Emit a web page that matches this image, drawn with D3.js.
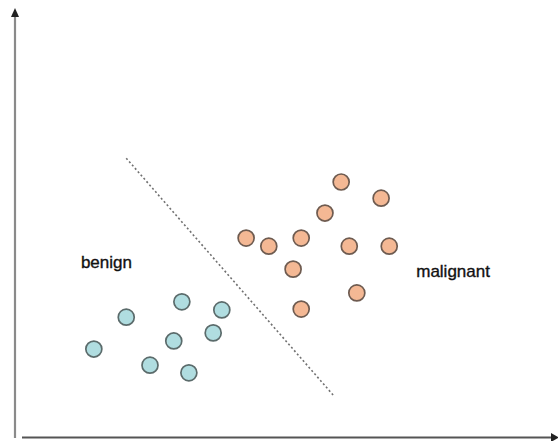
<!DOCTYPE html>
<html>
<head>
<meta charset="utf-8">
<script src="https://cdn.jsdelivr.net/npm/d3@7"></script>
<style>
html,body{margin:0;padding:0;background:#fff;}
svg{display:block;}
</style>
</head>
<body>
<svg id="chart" width="558" height="441"></svg>
<script>
// Data (feature units 0..100)
const benignX = [14.6, 20.6, 30.9, 38.3, 36.7, 29.4, 25.0, 32.2];
const benignY = [20.7, 28.2, 31.8, 29.9, 24.5, 22.6, 16.9, 15.1];
const malignantX = [60.4, 67.8, 57.4, 42.8, 47.0, 53.0, 61.9, 69.3, 51.5, 63.3, 53.0];
const malignantY = [60.0, 56.2, 52.7, 46.8, 44.9, 46.8, 44.9, 44.9, 39.5, 33.9, 30.1];
const boundaryX = [20.6, 58.9];
const boundaryY = [65.6, 9.9];
const labelNames = ["benign", "malignant"];
const labelX = [12.2, 74.3];
const labelY = [39.8, 37.6];

const svg = d3.select("#chart");
const x = d3.scaleLinear().domain([0, 100]).range([15, 555]);
const y = d3.scaleLinear().domain([0, 100]).range([437, 12]);

// axes
svg.append("line").attr("x1", x(0)).attr("x2", x(0)).attr("y1", 438).attr("y2", 14)
  .attr("stroke", "#8a8a8a").attr("stroke-width", 2.2);
svg.append("path").attr("d", `M${x(0)-4},17 L${x(0)},8 L${x(0)+4},17 Z`)
  .attr("fill", "#222");
svg.append("line").attr("x1", 22).attr("x2", 556).attr("y1", 437.5).attr("y2", 437.5)
  .attr("stroke", "#555").attr("stroke-width", 2);
svg.append("path").attr("d", `M551,433 L559,437.5 L551,442 Z`).attr("fill", "#222");

// boundary
svg.append("line")
  .attr("x1", x(boundaryX[0])).attr("y1", y(boundaryY[0]))
  .attr("x2", x(boundaryX[1])).attr("y2", y(boundaryY[1]))
  .attr("stroke", "#707070").attr("stroke-width", 1.6).attr("stroke-dasharray", "2,2.4");

const benign = benignX.map((v, i) => ({x: v, y: benignY[i]}));
const malignant = malignantX.map((v, i) => ({x: v, y: malignantY[i]}));

svg.append("g").selectAll("circle").data(benign).join("circle")
  .attr("cx", d => x(d.x)).attr("cy", d => y(d.y)).attr("r", 8)
  .attr("fill", "#b0dde0").attr("stroke", "#5b6b6b").attr("stroke-width", 1.7);

svg.append("g").selectAll("circle").data(malignant).join("circle")
  .attr("cx", d => x(d.x)).attr("cy", d => y(d.y)).attr("r", 8)
  .attr("fill", "#f4b894").attr("stroke", "#6e5b50").attr("stroke-width", 1.7);

svg.append("g").selectAll("text").data(labelNames).join("text")
  .attr("x", (d, i) => x(labelX[i])).attr("y", (d, i) => y(labelY[i]))
  .attr("font-family", "Liberation Sans, Arial, sans-serif")
  .attr("font-size", 17).attr("fill", "#111")
  .attr("stroke", "#111").attr("stroke-width", 0.35)
  .text(d => d);
</script>
</body>
</html>
